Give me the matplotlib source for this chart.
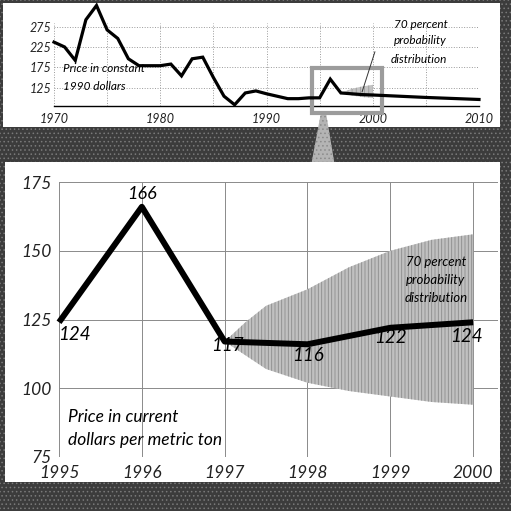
#importing all relevant modules
import numpy as np
import matplotlib.pyplot as plt
from matplotlib import font_manager
from matplotlib.font_manager import FontProperties
from matplotlib.patches import Rectangle, Polygon

# DATA
# top chart : price in constant 1990 dollars
top_years = [1970, 1971, 1972, 1973, 1974, 1975, 1976, 1977, 1978, 1979,
             1980, 1981, 1982, 1983, 1984, 1985, 1986, 1987, 1988, 1989,
             1990, 1991, 1992, 1993, 1994, 1995, 1996, 1997, 1998, 1999,
             2000, 2005, 2010]
top_price = [237, 225, 192, 292, 327, 267, 246, 196, 179, 179,
             179, 183, 154, 196, 200, 150, 104, 83, 112, 117,
             110, 104, 98, 98, 100, 100, 146, 112, 110, 108,
             107, 101, 96]
top_fan_years = [1997, 1998, 1999, 2000]
top_fan_upper = [112, 122, 128, 132]
top_fan_lower = [112, 106, 102, 100]
top_xticks = [1970, 1980, 1990, 2000, 2010]
top_yticks = [125, 175, 225, 275]

# bottom chart : price in current dollars per metric ton
years = [1995, 1996, 1997, 1998, 1999, 2000]
price = [124, 166, 117, 116, 122, 124]
fan_years = [1997, 1997.25, 1997.5, 1998, 1998.5, 1999, 1999.5, 2000]
fan_upper = [117, 124, 130, 136, 144, 150, 154, 156]
fan_lower = [117, 112, 107, 102, 99, 97, 95, 94]
yticks = [75, 100, 125, 150, 175]

# pick a humanist sans that really has an italic file
fam = 'DejaVu Sans'
for cand in ['Lato', 'Open Sans', 'Noto Sans', 'Roboto', 'Liberation Sans']:
    try:
        path = font_manager.findfont(FontProperties(family=cand, style='italic'),
                                     fallback_to_default=False)
    except Exception:
        continue
    if 'italic' in path.lower() or 'oblique' in path.lower():
        fam = cand
        break
plt.rcParams['font.family'] = [fam, 'DejaVu Sans']
plt.rcParams['font.style'] = 'italic'
plt.rcParams['hatch.linewidth'] = 0.6

fig = plt.figure(figsize=(5.11, 5.11), dpi=100)
fig.patch.set_facecolor('#3c3c3c')

# speckled dark background
fig.patches.append(Rectangle((0, 0), 1, 1, transform=fig.transFigure, facecolor='#3c3c3c',
                             edgecolor='#7a7a7a', hatch='....', lw=0, zorder=-3))
# white panels behind both charts
fig.patches.append(Rectangle((0.006, 0.7515), 0.9726, 0.2427, transform=fig.transFigure,
                             facecolor='white', edgecolor='none', zorder=-2))
fig.patches.append(Rectangle((0.0098, 0.0568), 0.9687, 0.626, transform=fig.transFigure,
                             facecolor='white', edgecolor='none', zorder=-2))
# connector from the highlight box down to the bottom chart
fig.patches.append(Polygon([(0.628, 0.779), (0.638, 0.779), (0.654, 0.683), (0.610, 0.683)],
                           closed=True, transform=fig.transFigure,
                           facecolor='#b4b4b4', edgecolor='#8a8a8a', hatch='....', lw=0, zorder=-1))

# PART-1 : TOP CHART
ax1 = fig.add_axes([0.1057, 0.7926, 0.8317, 0.1624])
ax1.set_facecolor('none')
ax1.set_xlim(1970, 2010)
ax1.set_ylim(80, 284)
ax1.fill_between(top_fan_years, top_fan_lower, top_fan_upper, facecolor='#c4c4c4',
                 edgecolor='#999999', hatch='||||', lw=0, zorder=2)
ax1.plot(top_years, top_price, color='black', lw=2.3, clip_on=False, zorder=4,
         solid_joinstyle='miter')
ax1.set_xticks(top_xticks)
ax1.set_xticks(range(1970, 2011, 5), minor=True)
ax1.set_yticks(top_yticks)
ax1.set_xticklabels([str(v) for v in top_xticks], fontstyle='italic')
ax1.set_yticklabels([str(v) for v in top_yticks], fontstyle='italic')
ax1.grid(True, which='both', color='#9a9a9a', lw=0.7, ls=':')
ax1.tick_params(length=0, labelsize=9, colors='#222222', which='both')
ax1.tick_params(axis='x', pad=5)
ax1.tick_params(axis='y', pad=2)
for s in ['top', 'right', 'left']:
    ax1.spines[s].set_visible(False)
ax1.spines['bottom'].set_color('black')
ax1.spines['bottom'].set_linewidth(1)

# highlight box round 1995-2000
ax1.add_patch(Rectangle((1994.3, 62), 6.6, 112, facecolor='none', edgecolor='#9c9c9c',
                        lw=3, clip_on=False, zorder=3))
ax1.text(1970.8, 172, 'Price in constant', fontsize=8.5, va='center', zorder=5)
ax1.text(1970.8, 129, '1990 dollars', fontsize=8.5, va='center', zorder=5)
ax1.text(2004.5, 280, '70 percent', fontsize=8.5, ha='center', va='center')
ax1.text(2004.5, 240, 'probability', fontsize=8.5, ha='center', va='center')
ax1.text(2004.3, 194, 'distribution', fontsize=8.5, ha='center', va='center')
ax1.plot([2000.2, 1999.0], [213, 115], color='#333333', lw=0.7, zorder=5)

# PART-2 : BOTTOM CHART
ax2 = fig.add_axes([0.1155, 0.1057, 0.859, 0.538])
ax2.set_facecolor('none')
ax2.set_xlim(1995, 2000.3)
ax2.set_ylim(75, 175)
ax2.fill_between(fan_years, fan_lower, fan_upper, facecolor='#c0c0c0',
                 edgecolor='#8c8c8c', hatch='|||||', lw=0, zorder=2)
ax2.plot(years, price, color='black', lw=4.3, zorder=4, clip_on=False,
         solid_joinstyle='round', solid_capstyle='butt')
ax2.set_xticks(years)
ax2.set_yticks(yticks)
ax2.set_xticklabels([str(v) for v in years], fontstyle='italic')
ax2.set_yticklabels([str(v) for v in yticks], fontstyle='italic')
ax2.grid(True, color='#8a8a8a', lw=0.7)
ax2.tick_params(length=0, labelsize=12.5, colors='#222222')
ax2.tick_params(axis='x', pad=6)
ax2.tick_params(axis='y', pad=5)
for s in ax2.spines.values():
    s.set_visible(False)

# value labels on the line
ax2.text(1996.0, 170.5, '166', fontsize=13, ha='center', va='center', zorder=5)
ax2.text(1995.18, 119.5, '124', fontsize=13.5, ha='center', va='center', zorder=5)
ax2.text(1997.03, 115.4, '117', fontsize=13.5, ha='center', va='center', zorder=5)
ax2.text(1998.0, 111.8, '116', fontsize=13.5, ha='center', va='center', zorder=5)
ax2.text(1999.0, 118.4, '122', fontsize=13.5, ha='center', va='center', zorder=5)
ax2.text(1999.92, 118.8, '124', fontsize=13.5, ha='center', va='center', zorder=5)

ax2.text(1999.55, 146, '70 percent', fontsize=9.5, ha='center', va='center', zorder=5)
ax2.text(1999.54, 139.5, 'probability', fontsize=9.5, ha='center', va='center', zorder=5)
ax2.text(1999.55, 133, 'distribution', fontsize=9.5, ha='center', va='center', zorder=5)

ax2.text(1995.11, 89.5, 'Price in current', fontsize=12.5, va='center', zorder=5)
ax2.text(1995.11, 81, 'dollars per metric ton', fontsize=12.5, va='center', zorder=5)

plt.savefig('out.png', dpi=100, facecolor=fig.get_facecolor())
